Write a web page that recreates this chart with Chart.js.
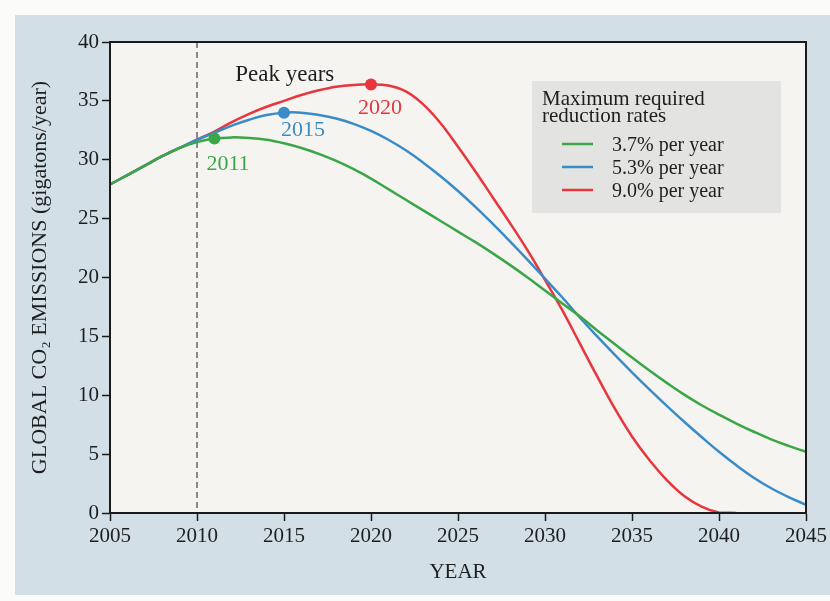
<!DOCTYPE html>
<html>
<head>
<meta charset="utf-8">
<script src="https://cdn.jsdelivr.net/npm/chart.js@4.4.1/dist/chart.umd.min.js"></script>
<style>
  html, body { margin: 0; padding: 0; background: #fbfbfa; }
  #wrap { width: 830px; height: 601px; position: relative; }
</style>
</head>
<body>
<div id="wrap"><canvas id="myChart"></canvas></div>
<script>
var years = [2005, 2006, 2007, 2008, 2009, 2010, 2011, 2012, 2013, 2014,
             2015, 2016, 2017, 2018, 2019, 2020, 2021, 2022, 2023, 2024,
             2025, 2026, 2027, 2028, 2029, 2030, 2031, 2032, 2033, 2034,
             2035, 2036, 2037, 2038, 2039, 2040, 2041, 2042, 2043, 2044, 2045];

// 3.7% per year (peak 2011)
var rate37 = [27.9, 28.7, 29.5, 30.3, 31.0, 31.5, 31.8, 31.9, 31.85, 31.7,
              31.4, 31.0, 30.5, 29.9, 29.2, 28.4, 27.5, 26.6, 25.7, 24.8,
              23.9, 23.0, 22.05, 21.05, 20.0, 18.9, 17.8, 16.7, 15.5, 14.35,
              13.2, 12.1, 11.05, 10.05, 9.15, 8.35, 7.6, 6.9, 6.25, 5.7, 5.2];

// 5.3% per year (peak 2015)
var rate53 = [27.9, 28.7, 29.5, 30.3, 31.0, 31.7, 32.3, 32.9, 33.4, 33.8,
              34.0, 34.0, 33.8, 33.5, 33.05, 32.45, 31.7, 30.8, 29.75, 28.6,
              27.35, 26.0, 24.55, 23.05, 21.5, 19.9, 18.3, 16.6, 15.0, 13.45,
              11.95, 10.5, 9.1, 7.75, 6.45, 5.2, 4.05, 3.0, 2.1, 1.35, 0.7];

// 9.0% per year (peak 2020)
var rate90 = [27.9, 28.7, 29.5, 30.3, 31.0, 31.7, 32.4, 33.2, 33.9, 34.5,
              35.0, 35.5, 35.9, 36.2, 36.35, 36.4, 36.3, 35.8, 34.7, 33.1,
              31.1, 29.0, 26.8, 24.6, 22.3, 19.8, 17.2, 14.4, 11.6, 8.9,
              6.5, 4.5, 2.8, 1.45, 0.55, 0.05, 0, null, null, null, null];

var seriesNames = ['3.7% per year', '5.3% per year', '9.0% per year'];
var peakYears = [2011, 2015, 2020];
var seriesColors = ['#3aa648', '#3a8cc8', '#e8363e'];
var legendTitle = ['Maximum required', 'reduction rates'];
var thresholdYear = 2010;

var serif = '"Liberation Serif", "DejaVu Serif", serif';

function toPoints(vals) {
  return years.map(function(yr, i) {
    return { x: yr, y: vals[i] };
  });
}

function makeSet(i, vals) {
  return {
    label: seriesNames[i],
    data: toPoints(vals),
    borderColor: seriesColors[i],
    backgroundColor: seriesColors[i],
    borderWidth: 2.5,
    tension: 0.4,
    pointRadius: function(c) { return c.raw && c.raw.x === peakYears[i] ? 6 : 0; },
    pointBorderWidth: 0,
    pointHoverRadius: 0
  };
}

// panel + plot background, dashed line, frame, labels, legend box
var decor = {
  id: 'decor',
  beforeDraw: function(chart) {
    var c = chart.ctx, a = chart.chartArea;
    c.save();
    c.fillStyle = '#d2dfe7';
    c.fillRect(15, 15, chart.width - 15, 580);
    c.fillStyle = '#f6f4f0';
    c.fillRect(a.left, a.top, a.right - a.left, a.bottom - a.top);
    c.restore();
  },
  beforeDatasetsDraw: function(chart) {
    var c = chart.ctx, a = chart.chartArea;
    var x = chart.scales.x.getPixelForValue(thresholdYear);
    c.save();
    c.strokeStyle = '#666';
    c.lineWidth = 1.5;
    c.setLineDash([6, 4]);
    c.beginPath();
    c.moveTo(x, a.top);
    c.lineTo(x, a.bottom);
    c.stroke();
    c.restore();
  },
  afterDraw: function(chart) {
    var c = chart.ctx, a = chart.chartArea;
    var xs = chart.scales.x, ys = chart.scales.y;
    c.save();
    c.strokeStyle = '#1a1a1a';
    c.lineWidth = 2;
    c.strokeRect(a.left, a.top, a.right - a.left, a.bottom - a.top);

    // peak labels
    var sets = [rate37, rate53, rate90];
    var offs = [[-8, 26], [-3, 18], [-13, 24]];
    c.font = '22px ' + serif;
    c.textBaseline = 'middle';
    c.textAlign = 'left';
    for (var i = 0; i < 3; i++) {
      var idx = years.indexOf(peakYears[i]);
      var px = xs.getPixelForValue(peakYears[i]);
      var py = ys.getPixelForValue(sets[i][idx]);
      c.fillStyle = seriesColors[i];
      c.fillText(String(peakYears[i]), px + offs[i][0], py + offs[i][1]);
    }

    c.fillStyle = '#1e1e1e';
    c.font = '23px ' + serif;
    c.fillText('Peak years', xs.getPixelForValue(2012.2), ys.getPixelForValue(37.2));

    // legend
    var lx = a.right - 274, ly = a.top + 39;
    c.fillStyle = '#e3e3e1';
    c.fillRect(lx, ly, 249, 132);
    c.fillStyle = '#1e1e1e';
    c.font = '21px ' + serif;
    c.textBaseline = 'alphabetic';
    c.fillText(legendTitle[0], lx + 10, ly + 24);
    c.fillText(legendTitle[1], lx + 10, ly + 41);
    c.font = '20px ' + serif;
    for (var j = 0; j < 3; j++) {
      var yy = ly + 63 + j * 23;
      c.strokeStyle = seriesColors[j];
      c.lineWidth = 2.5;
      c.beginPath();
      c.moveTo(lx + 30, yy);
      c.lineTo(lx + 61, yy);
      c.stroke();
      c.fillStyle = '#1e1e1e';
      c.fillText(seriesNames[j], lx + 80, yy + 7);
    }
    c.restore();
  }
};

var chart = new Chart('myChart', {
  type: 'line',
  data: {
    datasets: [makeSet(0, rate37), makeSet(1, rate53), makeSet(2, rate90)]
  },
  options: {
    responsive: true,
    maintainAspectRatio: false,
    animation: false,
    layout: { padding: { left: 0, right: 22, top: 42, bottom: 0 } },
    plugins: {
      legend: { display: false },
      tooltip: { enabled: false }
    },
    scales: {
      x: {
        type: 'linear',
        min: 2005,
        max: 2045,
        afterFit: function(s) { s.height = 88; },
        ticks: {
          stepSize: 5,
          color: '#1e1e1e',
          padding: 3,
          font: { family: serif, size: 21 },
          callback: function(v) { return String(v); }
        },
        grid: { drawOnChartArea: false, tickLength: 8, tickColor: '#1a1a1a', tickWidth: 1.5 },
        border: { color: '#1a1a1a', width: 2 },
        title: {
          display: true,
          text: 'YEAR',
          color: '#1e1e1e',
          font: { family: serif, size: 21 },
          padding: { top: 0, bottom: 16 }
        }
      },
      y: {
        min: 0,
        max: 40,
        afterFit: function(s) { s.width = 110; },
        ticks: {
          stepSize: 5,
          color: '#1e1e1e',
          padding: 3,
          font: { family: serif, size: 21 }
        },
        grid: { drawOnChartArea: false, tickLength: 8, tickColor: '#1a1a1a', tickWidth: 1.5 },
        border: { color: '#1a1a1a', width: 2 },
        title: {
          display: true,
          text: 'GLOBAL CO\u2082 EMISSIONS (gigatons/year)',
          color: '#1e1e1e',
          font: { family: serif, size: 22 },
          padding: { top: 27, bottom: 0 }
        }
      }
    }
  },
  plugins: [decor]
});
</script>
</body>
</html>
